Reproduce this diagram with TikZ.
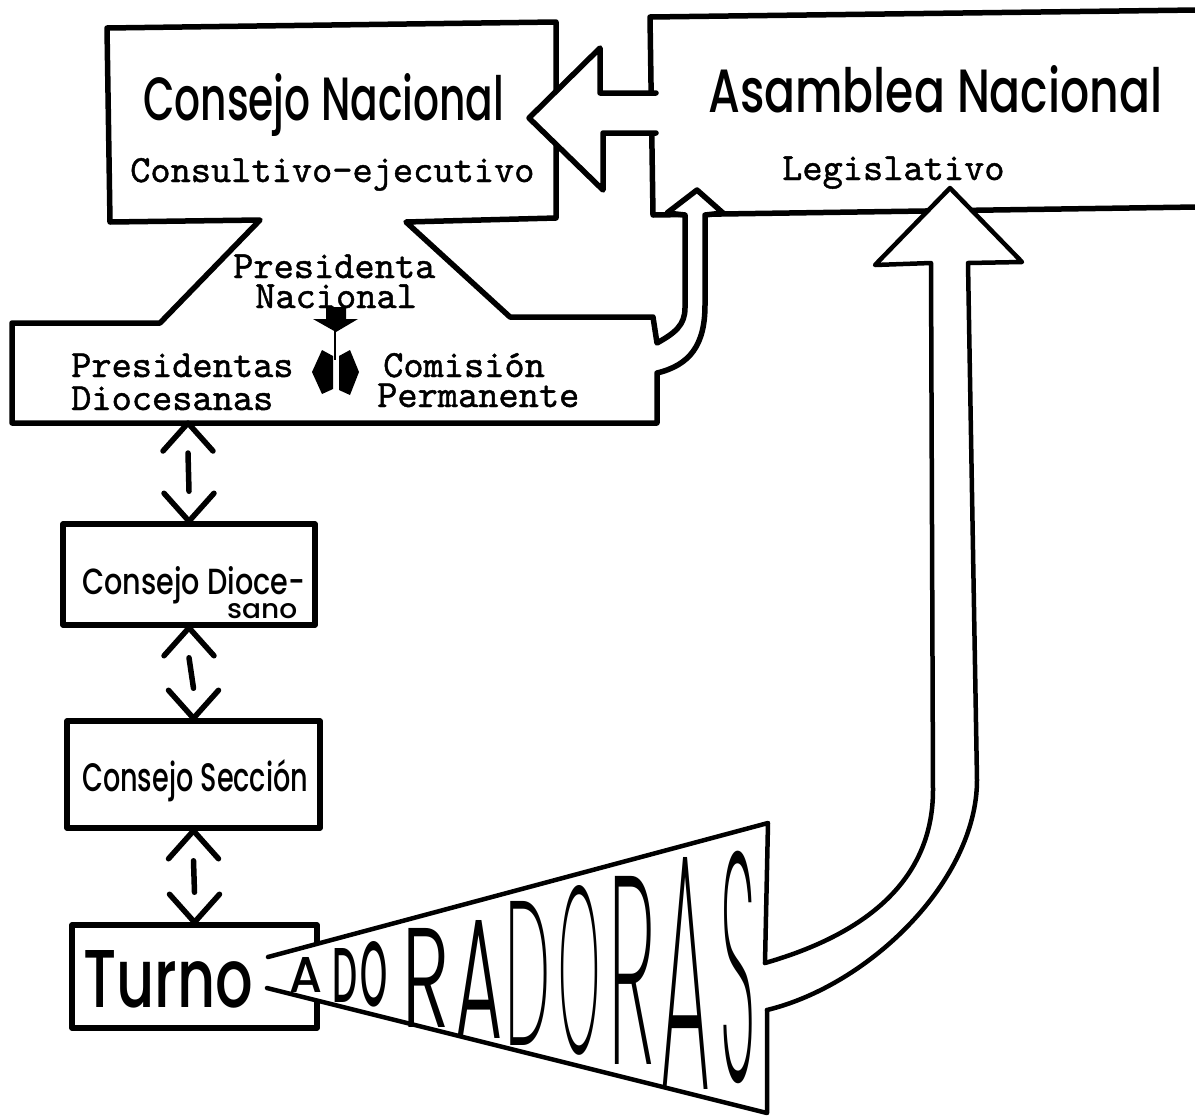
\documentclass[tikz,border=0pt]{standalone}
\usepackage{fontspec}
\usepackage{graphicx}
\newfontfamily\handfont{Poppins Medium}
\newfontfamily\fontm{Poppins Medium}
\newfontfamily\fontl{Poppins Light}
\newfontfamily\fonte{Poppins ExtraLight}
\newfontfamily\typefont{lmmono10-regular.otf}[FakeBold=1.2]
\usetikzlibrary{positioning,calc}
\tikzset{>=stealth}
\tikzstyle{outline} = [draw, line width=5.5pt, line join=round, line cap=round]
\tikzstyle{thinline} = [draw, line width=4.5pt, line join=round, line cap=round]
% handwritten text squeezed to a given width and height
\newcommand{\hw}[3]{\resizebox{#1pt}{#2pt}{\handfont #3}}
% double arrow with open heads between two points
\newcommand{\updown}[2]{%
	\draw [outline] ($(#1)+(-25,28)$) -- (#1) -- ($(#1)+(25,28)$);
	\draw [outline] ($(#1)+(0,30)$) -- ($(#2)+(0,-30)$);
	\draw [outline] ($(#2)+(-25,-28)$) -- (#2) -- ($(#2)+(25,-28)$);}

\begin{document}
\begin{tikzpicture}[x=1pt, y=-1pt,
	box/.style={outline, rectangle, inner sep=0pt},
	tw/.style={inner sep=0pt, anchor=base west, font=\fontsize{38.5}{40}\selectfont\typefont},
	hand/.style={inner sep=0pt, anchor=base west}]
	\useasboundingbox (0,0) rectangle (1195,1117);
	%% Asamblea Nacional
	\draw [outline] (1197,10) -- (650,17) -- (653,215) -- (1197,207);
	%% Consejo Nacional, Presidentas, and the small arrow up
	\draw [outline, fill=white] (657,373) -- (657,423) -- (12,423) -- (12,323) -- (160,323) -- (260,220)
		-- (110,222) -- (107,28) -- (556,22) -- (556,218) -- (406,222) -- (510,317) -- (653,317) -- (657,343)
		.. controls (675,333) and (685,325) .. (685,308) -- (685,215) -- (667,213) -- (697,190) -- (723,213)
		-- (705,215) -- (705,305) .. controls (705,345) and (690,365) .. (657,373) -- cycle;
	%% arrow from Asamblea to Consejo
	\fill [white] (659,93) -- (600,93) -- (600,48) -- (529,118) -- (603,190) -- (603,133) -- (659,133) -- cycle;
	\draw [outline] (656,93) -- (600,93) -- (600,48) -- (529,118) -- (603,190) -- (603,133) -- (656,133);
	%% lower boxes
	\node [box, minimum width=252pt, minimum height=101pt] (dioc) at (189,574.5) {};
	\node [box, minimum width=253pt, minimum height=107pt] (secc) at (193.5,774.5) {};
	\node [box, minimum width=245pt, minimum height=103pt] (turno) at (194.5,976.5) {};
	\coordinate (pdiocs) at (188,423);
	\updown{pdiocs}{dioc.north}
	\updown{dioc.south}{secc.north}
	\updown{secc.south}{turno.north}
	%% megaphone and big arrow
	\fill [white] (268,957) -- (768,823) -- (767,1113) -- (267,988) -- cycle;
	\draw [thinline] (268,957) -- (768,823) -- (765,963);
	\draw [thinline] (767,1010) -- (767,1113) -- (267,988);
	\fill [white] (765,963) .. controls (880,930) and (933,870) .. (933,790) -- (931,263) -- (875,265)
		-- (950,188) -- (1022,262) -- (968,263) -- (977,780) .. controls (977,880) and (870,985) .. (767,1010) -- cycle;
	\draw [thinline] (765,963) .. controls (880,930) and (933,870) .. (933,790) -- (931,263) -- (875,265)
		-- (950,188) -- (1022,262) -- (968,263) -- (977,780) .. controls (977,880) and (870,985) .. (767,1010);
	%% Presidenta Nacional marks
	\fill (326,307) -- (346,307) -- (346,319) -- (358,319) -- (336,332) -- (313,319) -- (326,319) -- cycle;
	\draw [line width=2.5pt] (335,328) -- (335,360);
	\fill (333,356) -- (322,350) -- (312,372) -- (322,394) -- (333,389) -- cycle;
	\fill (339,356) -- (350,350) -- (359,372) -- (350,395) -- (339,390) -- cycle;
	%% Texts
	\node [hand] (cnac) at (143,120) {\hw{361}{47}{Consejo Nacional}};
	\node [hand] (anac) at (708,112) {\hw{454}{47}{Asamblea Nacional}};
	\node [tw] (cons) at (130,182) {Consultivo-ejecutivo};
	\node [tw] (legis) at (782,180) {Legislativo};
	\node [tw] (presa) at (233,278) {Presidenta};
	\node [tw] (presb) at (255,308) {Nacional};
	\node [tw] (pdioa) at (71,377) {Presidentas};
	\node [tw] (pdiob) at (71,410) {Diocesanas};
	\node [tw] (comia) at (383,377) {Comisión};
	\node [tw] (comib) at (377,407) {Permanente};
	\node [hand] (cdioa) at (82,594) {\hw{223}{28}{Consejo Dioce-}};
	\node [hand] (cdiob) at (227,618) {\hw{70}{15}{sano}};
	\node [hand] (csecc) at (82,791) {\hw{226}{32}{Consejo Sección}};
	\node [hand] (tname) at (83,1007) {\hw{170}{57}{Turno}};
	\foreach \ch/\x/\y/\w/\h/\f [count=\i] in {A/306.5/974.5/33/35/m, D/344.5/975/25/54/m, O/373.5/974.5/27/65/m,
		R/426.5/977.5/47/99/l, A/478.5/979/47/118/l, D/527.5/973.5/45/144/e, O/579/970/42/168/e,
		R/631.5/970.5/47/188/e, A/685/973.5/50/232/e, S/737.5/967.5/35/230/e}
		\node [inner sep=0pt] (ador\i) at (\x,\y) {\resizebox{\w pt}{\h pt}{\csname font\f\endcsname \ch}};
\end{tikzpicture}
\end{document}
